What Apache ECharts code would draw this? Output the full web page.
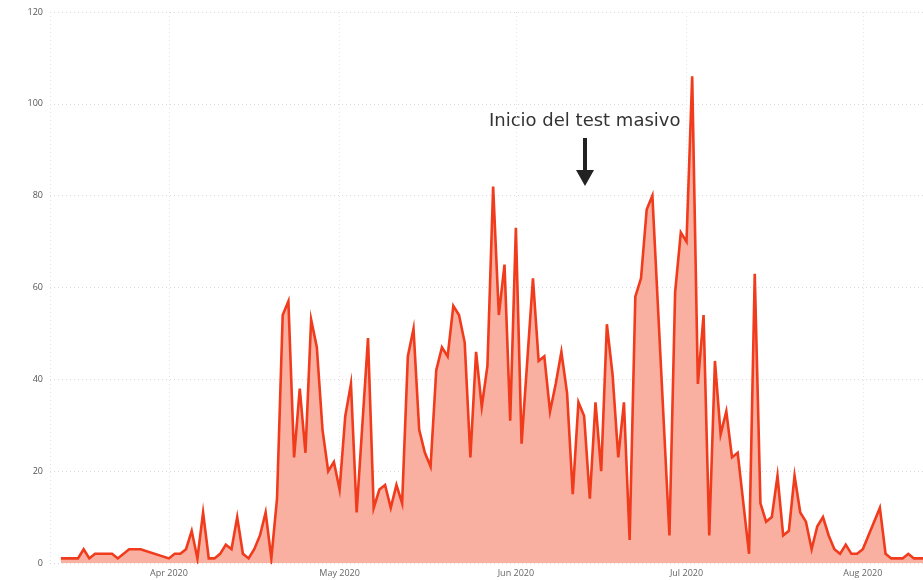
<!DOCTYPE html>
<html>
<head>
<meta charset="utf-8">
<script src="https://cdn.jsdelivr.net/npm/echarts@6/dist/echarts.min.js"></script>
<style>
  html, body { margin: 0; padding: 0; background: #fff; }
  #chart { width: 923px; height: 580px; }
</style>
</head>
<body>
<div id="chart"></div>
<script>
// daily new cases (days without a vertex are skipped, the line just joins)
const days = [
  '2020-03-13', '2020-03-16', '2020-03-17', '2020-03-18', '2020-03-19', '2020-03-22', '2020-03-23', '2020-03-25', '2020-03-27',
  '2020-04-01', '2020-04-02', '2020-04-03', '2020-04-04', '2020-04-05', '2020-04-06', '2020-04-07', '2020-04-08', '2020-04-09',
  '2020-04-10', '2020-04-11', '2020-04-12', '2020-04-13', '2020-04-14', '2020-04-15', '2020-04-16', '2020-04-17', '2020-04-18',
  '2020-04-19', '2020-04-20', '2020-04-21', '2020-04-22', '2020-04-23', '2020-04-24', '2020-04-25', '2020-04-26', '2020-04-27',
  '2020-04-28', '2020-04-29', '2020-04-30',
  '2020-05-01', '2020-05-02', '2020-05-03', '2020-05-04', '2020-05-06', '2020-05-07', '2020-05-08', '2020-05-09', '2020-05-10',
  '2020-05-11', '2020-05-12', '2020-05-13', '2020-05-14', '2020-05-15', '2020-05-16', '2020-05-17', '2020-05-18', '2020-05-19',
  '2020-05-20', '2020-05-21', '2020-05-22', '2020-05-23', '2020-05-24', '2020-05-25', '2020-05-26', '2020-05-27', '2020-05-28',
  '2020-05-29', '2020-05-30', '2020-05-31',
  '2020-06-01', '2020-06-02', '2020-06-04', '2020-06-05', '2020-06-06', '2020-06-07', '2020-06-08', '2020-06-09', '2020-06-10',
  '2020-06-11', '2020-06-12', '2020-06-13', '2020-06-14', '2020-06-15', '2020-06-16', '2020-06-17', '2020-06-18', '2020-06-19',
  '2020-06-20', '2020-06-21', '2020-06-22', '2020-06-23', '2020-06-24', '2020-06-25', '2020-06-28', '2020-06-29', '2020-06-30',
  '2020-07-01', '2020-07-02', '2020-07-03', '2020-07-04', '2020-07-05', '2020-07-06', '2020-07-07', '2020-07-08', '2020-07-09',
  '2020-07-10', '2020-07-12', '2020-07-13', '2020-07-14', '2020-07-15', '2020-07-16', '2020-07-17', '2020-07-18', '2020-07-19',
  '2020-07-20', '2020-07-21', '2020-07-22', '2020-07-23', '2020-07-24', '2020-07-25', '2020-07-26', '2020-07-27', '2020-07-28',
  '2020-07-29', '2020-07-30', '2020-07-31',
  '2020-08-01', '2020-08-04', '2020-08-05', '2020-08-06', '2020-08-07', '2020-08-08', '2020-08-09', '2020-08-10', '2020-08-11',
  '2020-08-12'
];
const cases = [
  1, 1, 3, 1, 2, 2, 1, 3, 3,
  1, 2, 2, 3, 7, 1, 11, 1, 1,
  2, 4, 3, 10, 2, 1, 3, 6, 11,
  1, 14, 54, 57, 23, 38, 24, 53, 47,
  29, 20, 22,
  16, 32, 39, 11, 49, 12, 16, 17, 12,
  17, 13, 45, 51, 29, 24, 21, 42, 47,
  45, 56, 54, 48, 23, 46, 34, 43, 82,
  54, 65, 31,
  73, 26, 62, 44, 45, 33, 39, 46, 37,
  15, 35, 32, 14, 35, 20, 52, 41, 23,
  35, 5, 58, 62, 77, 80, 6, 59, 72,
  70, 106, 39, 54, 6, 44, 28, 33, 23,
  24, 2, 63, 13, 9, 10, 19, 6, 7,
  19, 11, 9, 3, 8, 10, 6, 3, 2,
  4, 2, 2,
  3, 12, 2, 1, 1, 1, 2, 1, 1,
  1
];
const yTicks = [0, 20, 40, 60, 80, 100, 120];
const note = 'Inicio del test masivo';

const chart = echarts.init(document.getElementById('chart'));
chart.setOption({
  animation: false,
  grid: {
    left: 50,
    right: 0,
    top: 12,
    bottom: 17
  },
  xAxis: {
    type: 'time',
    min: '2020-03-11 02:00:00',
    max: '2020-08-11 14:00:00',
    minInterval: 28 * 86400000,
    axisLine: { show: false },
    axisTick: { show: false },
    axisLabel: {
      formatter: '{MMM} {yyyy}',
      showMinLabel: false,
      showMaxLabel: false,
      color: '#666',
      fontSize: 9,
      fontFamily: 'Open Sans',
      margin: 6
    },
    splitLine: {
      show: true,
      lineStyle: { color: '#e4e4e4', type: [1, 3], width: 1 }
    }
  },
  yAxis: {
    type: 'value',
    min: yTicks[0],
    max: yTicks[yTicks.length - 1],
    interval: yTicks[1] - yTicks[0],
    axisLine: { show: false },
    axisTick: { show: false },
    axisLabel: {
      color: '#555',
      fontSize: 9,
      fontFamily: 'Open Sans',
      margin: 7
    },
    splitLine: {
      lineStyle: { color: '#d8d8d8', type: [1, 3], width: 1 }
    }
  },
  series: [
    {
      name: 'casos',
      type: 'line',
      symbol: 'none',
      data: days.map((d, i) => [d, cases[i]]),
      lineStyle: { color: '#F03B1C', width: 2.6, join: 'miter' },
      areaStyle: { color: '#FAB0A1', opacity: 1 }
    }
  ],
  graphic: [
    {
      type: 'text',
      left: 489,
      top: 112,
      style: {
        text: note,
        fill: '#333',
        font: '18px "DejaVu Sans"'
      }
    },
    {
      type: 'rect',
      shape: { x: 583, y: 138, width: 4, height: 33 },
      style: { fill: '#222' }
    },
    {
      type: 'polygon',
      shape: { points: [[576, 170], [594, 170], [585, 186]] },
      style: { fill: '#222' }
    }
  ]
});
</script>
</body>
</html>
